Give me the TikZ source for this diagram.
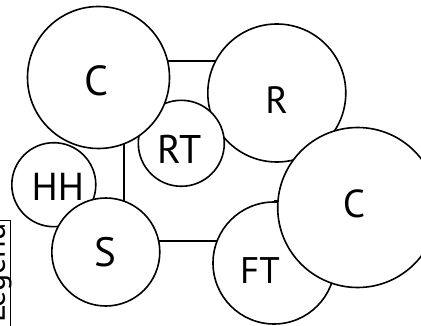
\documentclass[tikz,border=0pt]{standalone}
\usepackage{fontspec}
\setmainfont{PT Sans}
\pgfdeclarelayer{background}
\pgfsetlayers{background,main}
\begin{document}
\begin{tikzpicture}[x=1pt,y=-1pt,
  blob/.style={circle,draw,fill=white,line width=1.6pt,inner sep=0pt,minimum size=#1},
  conn/.style={line width=1.6pt},
  lbl/.style={inner sep=0pt,font=\fontsize{#1}{#1}\selectfont}]
\clip (0,0) rectangle (421,326);
% circles, in stacking order
\node[blob=138pt] (r)  at (276.8,93) {};
\node[blob=86pt]  (rt) at (181.3,143.3) {};
\node[blob=142pt] (c1) at (98.5,77.5) {};
\node[blob=84pt]  (hh) at (53.8,184.7) {};
\node[blob=108pt] (s)  at (105.8,252) {};
\node[blob=122pt] (ft) at (274,263) {};
\node[blob=160pt] (c2) at (357.7,207.5) {};
% labels
\node[lbl=42] (c1t) at (96.7,80.5) {C};
\node[lbl=38] (rtx) at (276.7,100.5) {R};
\node[lbl=40] (rtt) at (179.7,149) {RT};
\node[lbl=39] (hht) at (57.8,186.7) {HH};
\node[lbl=41] (st)  at (105.8,252.5) {S};
\node[lbl=37] (ftt) at (260,270.8) {FT};
\node[lbl=39] (c2t) at (354,204) {C};
% connectors behind the circles
\begin{pgfonlayer}{background}
\path (c1.center) ++(0,-16.5) coordinate (a1);
\draw[conn] (a1) -- (a1 -| r.center);
\path (c1.center) ++(25.5,0) coordinate (a2);
\draw[conn] (a2) -- (a2 |- s.center);
\path (s.center) ++(0,-11) coordinate (a3);
\draw[conn] (a3) -- (a3 -| ft.center);
\draw[conn] (ft.north) -- (ft.north -| c2.center);
\end{pgfonlayer}
% partly visible box at the left edge
\node[draw,line width=1.5pt,minimum width=60pt,minimum height=130pt,anchor=north east,inner sep=0pt] (box) at (11,220) {};
\begin{scope}
\clip (box.north west) rectangle (box.south east);
\node[lbl=32,rotate=90,anchor=base] (boxt) at (5,273) {Legend};
\end{scope}
\end{tikzpicture}
\end{document}
